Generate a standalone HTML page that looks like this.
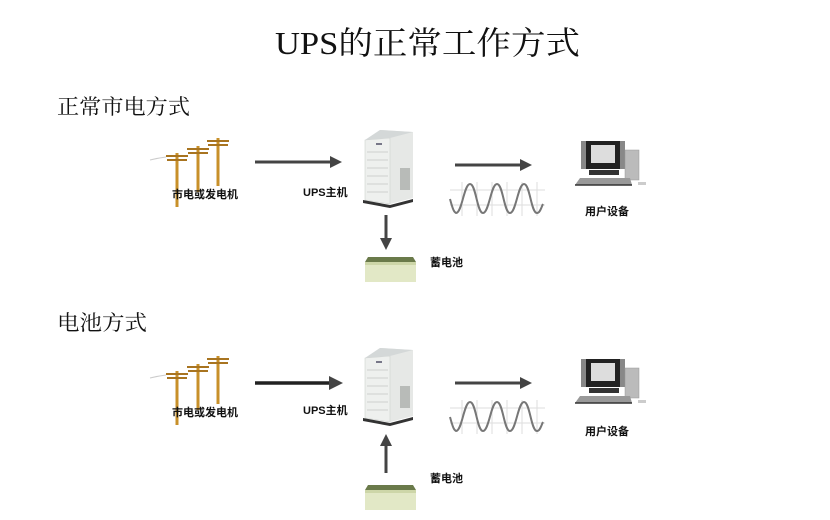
<!DOCTYPE html>
<html><head><meta charset="utf-8"><style>
html,body{margin:0;padding:0;background:#fff}
svg{display:block}
.t{font-family:"Liberation Serif","Noto Serif CJK SC",serif}
.l{font-family:"Liberation Sans","Noto Sans CJK SC",sans-serif;font-weight:bold;font-size:11px;fill:#111}
</style></head><body>
<svg width="830" height="520" viewBox="0 0 830 520" xmlns="http://www.w3.org/2000/svg">
<defs>
<marker id="ah" markerWidth="4" markerHeight="4" refX="2" refY="2" orient="auto" markerUnits="strokeWidth"><path d="M0,0 L4,2 L0,4 Z" fill="#444"/></marker>
<g id="poles">
 <g stroke="#c8902a" stroke-width="3" fill="none">
  <line x1="177" y1="153" x2="177" y2="207"/>
  <line x1="198" y1="146" x2="198" y2="192"/>
  <line x1="218" y1="138" x2="218" y2="186"/>
 </g>
 <g stroke="#a87420" stroke-width="2">
  <line x1="166" y1="156" x2="188" y2="156"/><line x1="167" y1="160" x2="187" y2="160"/>
  <line x1="187" y1="149" x2="209" y2="149"/><line x1="188" y1="153" x2="208" y2="153"/>
  <line x1="207" y1="141" x2="229" y2="141"/><line x1="208" y1="145" x2="228" y2="145"/>
 </g>
 <path d="M150,160 Q158,158 166,157" stroke="#ccc" fill="none"/>
</g>
<g id="ups">
 <path d="M365,140 L380,130 L413,132 L413,198 L390,204 L365,200 Z" fill="#e6e8e6"/>
 <path d="M365,140 L390,138 L390,204 L365,200 Z" fill="#eef0ee" stroke="#cfd2cf" stroke-width="0.6"/>
 <path d="M365,140 L380,130 L413,132 L390,138 Z" fill="#d4d8d8"/>
 <rect x="400" y="168" width="10" height="22" fill="#b8bbb8"/>
 <g stroke="#c4c7c4" stroke-width="0.8"><line x1="367" y1="152" x2="388" y2="152"/><line x1="367" y1="160" x2="388" y2="160"/><line x1="367" y1="168" x2="388" y2="168"/><line x1="367" y1="176" x2="388" y2="176"/><line x1="367" y1="184" x2="388" y2="184"/><line x1="367" y1="192" x2="388" y2="192"/></g>
 <rect x="376" y="143" width="6" height="2" fill="#778"/>
 <path d="M363,200 L390,205 L413,199 L413,202 L390,208 L363,203 Z" fill="#333"/>
</g>
<g id="wave">
 <g stroke="#ddd" stroke-width="1"><line x1="450" y1="190" x2="545" y2="190"/><line x1="450" y1="205" x2="545" y2="205"/>
 <line x1="462" y1="182" x2="462" y2="216"/><line x1="477" y1="182" x2="477" y2="216"/><line x1="492" y1="182" x2="492" y2="216"/><line x1="507" y1="182" x2="507" y2="216"/><line x1="522" y1="182" x2="522" y2="216"/><line x1="537" y1="182" x2="537" y2="216"/></g>
 <path d="M450,199 C453,210 454,212 456,213 C462,213 464,184 470,184 C476,184 477,213 483,213 C489,213 491,184 497,184 C503,184 504,213 510,213 C516,213 518,184 524,184 C530,184 531,213 537,213 C540,213 541,208 543,204" stroke="#777" stroke-width="2" fill="none"/>
</g>
<g id="pc">
 <rect x="586" y="141" width="34" height="28" fill="#222"/>
 <rect x="591" y="145" width="24" height="18" fill="#ddd"/>
 <rect x="581" y="141" width="5" height="28" fill="#888"/><rect x="620" y="141" width="5" height="28" fill="#888"/>
 <rect x="589" y="170" width="30" height="5" fill="#333"/>
 <rect x="625" y="150" width="14" height="30" fill="#bbb" stroke="#999" stroke-width="0.5"/>
 <path d="M580,178 L630,178 L632,185 L575,185 Z" fill="#999"/>
 <line x1="575" y1="185" x2="632" y2="185" stroke="#333" stroke-width="1.5"/>
 <rect x="638" y="182" width="8" height="3" fill="#ccc"/>
</g>
<g id="bat">
 <path d="M368,257 L413,257 L416,262 L365,262 Z" fill="#6a7a4a"/>
 <rect x="365" y="262" width="51" height="20" fill="#e2e8c6"/>
 <rect x="365" y="262" width="51" height="3" fill="#cdd6a8"/>
</g>
</defs>

<text class="t" x="275" y="54" font-size="32" textLength="305" lengthAdjust="spacingAndGlyphs" fill="#111">UPS的正常工作方式</text>
<text class="t" x="57" y="114" font-size="21" textLength="133" lengthAdjust="spacingAndGlyphs" fill="#111">正常市电方式</text>
<text class="t" x="57" y="330" font-size="21" textLength="90" lengthAdjust="spacingAndGlyphs" fill="#111">电池方式</text>

<!-- section 1 -->
<use href="#poles"/>
<text class="l" x="172" y="198">市电或发电机</text>
<line x1="255" y1="162" x2="336" y2="162" stroke="#444" stroke-width="3" marker-end="url(#ah)"/>
<use href="#ups"/>
<text class="l" x="303" y="196">UPS主机</text>
<line x1="455" y1="165" x2="526" y2="165" stroke="#444" stroke-width="3" marker-end="url(#ah)"/>
<use href="#wave"/>
<use href="#pc"/>
<text class="l" x="585" y="215">用户设备</text>
<line x1="386" y1="215" x2="386" y2="244" stroke="#444" stroke-width="3" marker-end="url(#ah)"/>
<use href="#bat"/>
<text class="l" x="430" y="266">蓄电池</text>

<!-- section 2 -->
<g transform="translate(0,218)">
<use href="#poles"/>
<text class="l" x="172" y="198">市电或发电机</text>
<line x1="255" y1="165" x2="336" y2="165" stroke="#222" stroke-width="3.5" marker-end="url(#ah)"/>
<use href="#ups"/>
<text class="l" x="303" y="196">UPS主机</text>
<line x1="455" y1="165" x2="526" y2="165" stroke="#444" stroke-width="3" marker-end="url(#ah)"/>
<use href="#wave"/>
<use href="#pc"/>
<text class="l" x="585" y="217">用户设备</text>
</g>
<line x1="386" y1="473" x2="386" y2="440" stroke="#444" stroke-width="3" marker-end="url(#ah)"/>
<g transform="translate(0,228)"><use href="#bat"/></g>
<text class="l" x="430" y="482">蓄电池</text>
</svg>
</body></html>
